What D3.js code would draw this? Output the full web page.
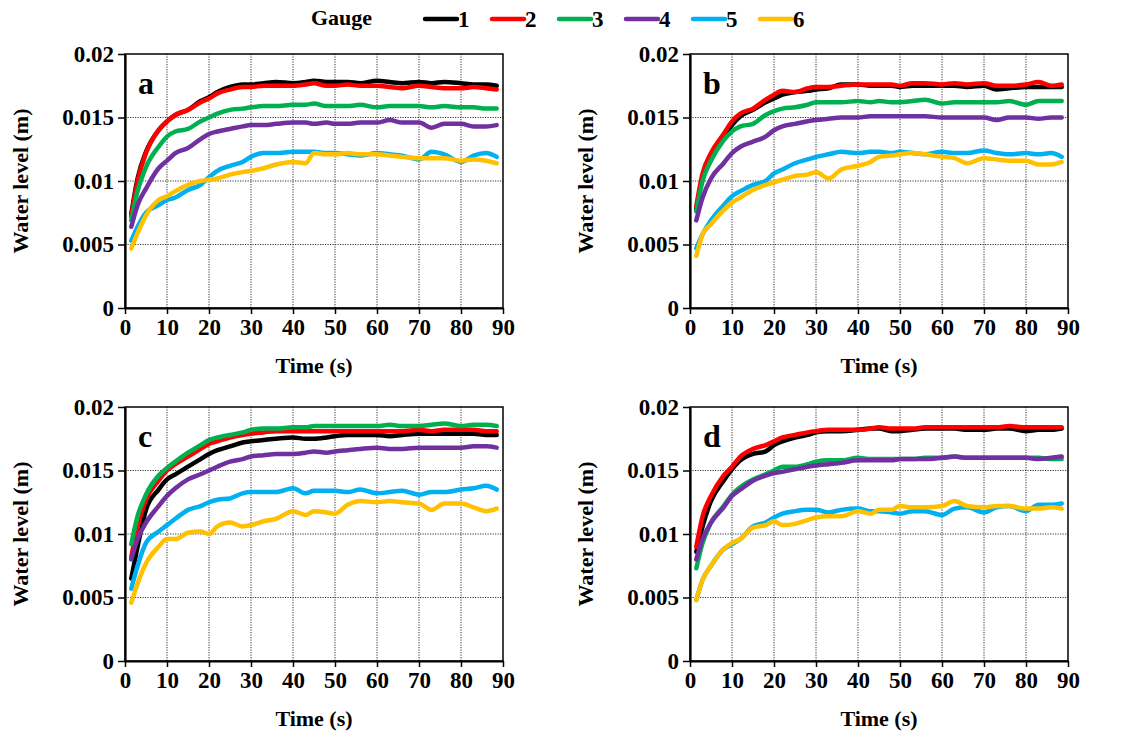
<!DOCTYPE html>
<html>
<head>
<meta charset="utf-8">
<script src="https://cdn.jsdelivr.net/npm/d3@7/dist/d3.min.js"></script>
<style>
  body { margin: 0; background: #fff; }
</style>
</head>
<body>
<div class="container"></div>
<script>
// sample times (s), shared by every series
var times = [1.5, 3, 5, 8, 10, 12, 15, 18, 20, 22, 25, 28, 30, 33, 36, 40, 43, 45, 48, 50, 53, 56, 60, 63, 66, 70, 73, 76, 80, 83, 86, 88.5];

var gauges = ['1', '2', '3', '4', '5', '6'];
var colors = ['#000000', '#ff0000', '#00b050', '#7030a0', '#00b0f0', '#ffc000'];
var panelNames = ['a', 'b', 'c', 'd'];
var xTicks = [0, 10, 20, 30, 40, 50, 60, 70, 80, 90];
var yTicks = [0, 0.005, 0.01, 0.015, 0.02];

// water level (m), panel a
var pa1 = [0.0074, 0.0102, 0.0123, 0.0140, 0.0147, 0.0152, 0.0156, 0.0163, 0.0166, 0.0170, 0.0174, 0.0176, 0.0176, 0.0177, 0.0178, 0.0177, 0.0178, 0.0179, 0.0178, 0.0178, 0.0178, 0.0177, 0.0179, 0.0178, 0.0177, 0.0178, 0.0177, 0.0178, 0.0177, 0.0176, 0.0176, 0.0175];
var pa2 = [0.0072, 0.0100, 0.0122, 0.0140, 0.0147, 0.0152, 0.0156, 0.0162, 0.0165, 0.0169, 0.0172, 0.0174, 0.0174, 0.0175, 0.0175, 0.0175, 0.0176, 0.0177, 0.0175, 0.0175, 0.0176, 0.0175, 0.0175, 0.0174, 0.0173, 0.0175, 0.0174, 0.0173, 0.0173, 0.0174, 0.0173, 0.0172];
var pa3 = [0.0069, 0.0092, 0.0111, 0.0127, 0.0135, 0.0139, 0.0141, 0.0147, 0.0150, 0.0153, 0.0156, 0.0157, 0.0158, 0.0159, 0.0159, 0.0160, 0.0160, 0.0161, 0.0159, 0.0159, 0.0159, 0.0160, 0.0158, 0.0159, 0.0159, 0.0159, 0.0158, 0.0159, 0.0158, 0.0158, 0.0157, 0.0157];
var pa4 = [0.0064, 0.0081, 0.0094, 0.0110, 0.0116, 0.0122, 0.0126, 0.0133, 0.0137, 0.0139, 0.0141, 0.0143, 0.0144, 0.0144, 0.0145, 0.0146, 0.0146, 0.0145, 0.0146, 0.0145, 0.0145, 0.0146, 0.0146, 0.0148, 0.0146, 0.0146, 0.0142, 0.0145, 0.0145, 0.0143, 0.0143, 0.0144];
var pa5 = [0.0053, 0.0064, 0.0075, 0.0081, 0.0085, 0.0087, 0.0093, 0.0097, 0.0103, 0.0108, 0.0112, 0.0115, 0.0119, 0.0122, 0.0122, 0.0123, 0.0123, 0.0123, 0.0122, 0.0122, 0.0121, 0.0120, 0.0122, 0.0121, 0.0120, 0.0117, 0.0123, 0.0121, 0.0115, 0.0120, 0.0122, 0.0119];
var pa6 = [0.0047, 0.0059, 0.0073, 0.0085, 0.0088, 0.0092, 0.0097, 0.0100, 0.0101, 0.0102, 0.0105, 0.0107, 0.0108, 0.0110, 0.0113, 0.0115, 0.0114, 0.0122, 0.0121, 0.0121, 0.0122, 0.0121, 0.0121, 0.0120, 0.0119, 0.0118, 0.0118, 0.0118, 0.0116, 0.0117, 0.0116, 0.0114];

// panel b
var pb1 = [0.0078, 0.0103, 0.0119, 0.0134, 0.0144, 0.0151, 0.0156, 0.0162, 0.0165, 0.0168, 0.0170, 0.0171, 0.0172, 0.0173, 0.0176, 0.0176, 0.0175, 0.0175, 0.0175, 0.0174, 0.0175, 0.0175, 0.0175, 0.0175, 0.0174, 0.0175, 0.0172, 0.0173, 0.0174, 0.0174, 0.0174, 0.0174];
var pb2 = [0.0080, 0.0106, 0.0122, 0.0137, 0.0147, 0.0153, 0.0157, 0.0164, 0.0168, 0.0171, 0.0170, 0.0173, 0.0174, 0.0174, 0.0175, 0.0176, 0.0176, 0.0176, 0.0176, 0.0175, 0.0177, 0.0177, 0.0176, 0.0177, 0.0176, 0.0177, 0.0175, 0.0175, 0.0176, 0.0178, 0.0175, 0.0176];
var pb3 = [0.0076, 0.0100, 0.0116, 0.0132, 0.0139, 0.0143, 0.0145, 0.0152, 0.0155, 0.0157, 0.0158, 0.0160, 0.0162, 0.0162, 0.0162, 0.0163, 0.0162, 0.0163, 0.0162, 0.0162, 0.0163, 0.0164, 0.0161, 0.0162, 0.0162, 0.0162, 0.0162, 0.0163, 0.0160, 0.0163, 0.0163, 0.0163];
var pb4 = [0.0069, 0.0087, 0.0102, 0.0114, 0.0122, 0.0127, 0.0131, 0.0135, 0.0140, 0.0143, 0.0145, 0.0147, 0.0148, 0.0149, 0.0150, 0.0150, 0.0151, 0.0151, 0.0151, 0.0151, 0.0151, 0.0151, 0.0150, 0.0150, 0.0150, 0.0150, 0.0148, 0.0150, 0.0150, 0.0149, 0.0150, 0.0150];
var pb5 = [0.0047, 0.0058, 0.0069, 0.0081, 0.0088, 0.0092, 0.0097, 0.0100, 0.0106, 0.0109, 0.0114, 0.0117, 0.0119, 0.0121, 0.0123, 0.0122, 0.0123, 0.0123, 0.0122, 0.0123, 0.0122, 0.0121, 0.0123, 0.0122, 0.0122, 0.0124, 0.0122, 0.0121, 0.0122, 0.0121, 0.0122, 0.0119];
var pb6 = [0.0041, 0.0058, 0.0066, 0.0077, 0.0083, 0.0087, 0.0093, 0.0097, 0.0099, 0.0101, 0.0104, 0.0105, 0.0107, 0.0102, 0.0109, 0.0112, 0.0115, 0.0119, 0.0120, 0.0121, 0.0122, 0.0121, 0.0119, 0.0118, 0.0114, 0.0118, 0.0117, 0.0116, 0.0116, 0.0113, 0.0113, 0.0115];

// panel c
var pc1 = [0.0065, 0.0090, 0.0119, 0.0135, 0.0143, 0.0147, 0.0153, 0.0159, 0.0163, 0.0166, 0.0169, 0.0172, 0.0173, 0.0174, 0.0175, 0.0176, 0.0175, 0.0175, 0.0176, 0.0177, 0.0178, 0.0178, 0.0178, 0.0177, 0.0178, 0.0179, 0.0179, 0.0179, 0.0179, 0.0179, 0.0178, 0.0178];
var pc2 = [0.0082, 0.0106, 0.0127, 0.0142, 0.0150, 0.0155, 0.0161, 0.0167, 0.0171, 0.0173, 0.0176, 0.0178, 0.0179, 0.0180, 0.0181, 0.0181, 0.0181, 0.0181, 0.0181, 0.0181, 0.0181, 0.0181, 0.0181, 0.0181, 0.0181, 0.0182, 0.0181, 0.0182, 0.0182, 0.0182, 0.0181, 0.0181];
var pc3 = [0.0092, 0.0114, 0.0131, 0.0146, 0.0152, 0.0157, 0.0164, 0.0170, 0.0174, 0.0176, 0.0178, 0.0180, 0.0182, 0.0183, 0.0183, 0.0184, 0.0184, 0.0185, 0.0185, 0.0185, 0.0185, 0.0185, 0.0185, 0.0186, 0.0185, 0.0185, 0.0186, 0.0187, 0.0185, 0.0186, 0.0186, 0.0185];
var pc4 = [0.0080, 0.0096, 0.0109, 0.0122, 0.0130, 0.0136, 0.0143, 0.0147, 0.0150, 0.0153, 0.0157, 0.0159, 0.0161, 0.0162, 0.0163, 0.0163, 0.0164, 0.0165, 0.0164, 0.0165, 0.0166, 0.0167, 0.0168, 0.0167, 0.0167, 0.0168, 0.0168, 0.0168, 0.0168, 0.0169, 0.0169, 0.0168];
var pc5 = [0.0057, 0.0075, 0.0093, 0.0102, 0.0107, 0.0112, 0.0119, 0.0122, 0.0125, 0.0127, 0.0128, 0.0132, 0.0133, 0.0133, 0.0133, 0.0136, 0.0132, 0.0134, 0.0134, 0.0134, 0.0133, 0.0135, 0.0132, 0.0133, 0.0134, 0.0131, 0.0133, 0.0133, 0.0135, 0.0136, 0.0138, 0.0135];
var pc6 = [0.0046, 0.0061, 0.0077, 0.0090, 0.0096, 0.0096, 0.0101, 0.0102, 0.0100, 0.0106, 0.0109, 0.0106, 0.0107, 0.0110, 0.0112, 0.0118, 0.0115, 0.0118, 0.0117, 0.0116, 0.0123, 0.0126, 0.0125, 0.0126, 0.0125, 0.0124, 0.0119, 0.0124, 0.0124, 0.0121, 0.0118, 0.0120];

// panel d
var pd1 = [0.0086, 0.0106, 0.0126, 0.0142, 0.0151, 0.0158, 0.0163, 0.0165, 0.0170, 0.0173, 0.0176, 0.0178, 0.0180, 0.0181, 0.0181, 0.0182, 0.0183, 0.0183, 0.0181, 0.0181, 0.0182, 0.0183, 0.0183, 0.0183, 0.0182, 0.0182, 0.0183, 0.0183, 0.0181, 0.0182, 0.0182, 0.0183];
var pd2 = [0.0090, 0.0114, 0.0130, 0.0146, 0.0153, 0.0161, 0.0167, 0.0170, 0.0173, 0.0176, 0.0178, 0.0180, 0.0181, 0.0182, 0.0182, 0.0182, 0.0183, 0.0184, 0.0183, 0.0183, 0.0183, 0.0184, 0.0184, 0.0184, 0.0184, 0.0184, 0.0184, 0.0185, 0.0184, 0.0184, 0.0184, 0.0184];
var pd3 = [0.0073, 0.0093, 0.0109, 0.0122, 0.0131, 0.0137, 0.0143, 0.0147, 0.0150, 0.0153, 0.0153, 0.0155, 0.0157, 0.0158, 0.0158, 0.0160, 0.0159, 0.0159, 0.0159, 0.0159, 0.0159, 0.0160, 0.0160, 0.0161, 0.0160, 0.0160, 0.0160, 0.0160, 0.0160, 0.0160, 0.0159, 0.0159];
var pd4 = [0.0080, 0.0096, 0.0109, 0.0121, 0.0130, 0.0135, 0.0142, 0.0146, 0.0148, 0.0149, 0.0151, 0.0153, 0.0154, 0.0155, 0.0156, 0.0158, 0.0158, 0.0158, 0.0158, 0.0159, 0.0159, 0.0159, 0.0160, 0.0161, 0.0160, 0.0160, 0.0160, 0.0160, 0.0160, 0.0159, 0.0160, 0.0161];
var pd5 = [0.0048, 0.0064, 0.0075, 0.0088, 0.0092, 0.0096, 0.0106, 0.0109, 0.0113, 0.0116, 0.0118, 0.0119, 0.0119, 0.0117, 0.0119, 0.0120, 0.0118, 0.0118, 0.0117, 0.0116, 0.0118, 0.0118, 0.0115, 0.0120, 0.0121, 0.0117, 0.0121, 0.0122, 0.0118, 0.0123, 0.0123, 0.0124];
var pd6 = [0.0048, 0.0064, 0.0075, 0.0088, 0.0093, 0.0096, 0.0105, 0.0107, 0.0110, 0.0107, 0.0108, 0.0111, 0.0113, 0.0114, 0.0114, 0.0118, 0.0116, 0.0119, 0.0119, 0.0122, 0.0121, 0.0121, 0.0122, 0.0126, 0.0122, 0.0121, 0.0122, 0.0122, 0.0120, 0.0120, 0.0121, 0.0120];

var panelSeries = [[pa1, pa2, pa3, pa4, pa5, pa6], [pb1, pb2, pb3, pb4, pb5, pb6], [pc1, pc2, pc3, pc4, pc5, pc6], [pd1, pd2, pd3, pd4, pd5, pd6]];

const WIDTH = 1141;
const HEIGHT = 733;
const PW = 378;
const PH = 254;
const FONT = '"Liberation Serif", Tinos, "Times New Roman", Times, "Nimbus Roman", "Nimbus Roman No9 L", FreeSerif, "Noto Serif", "DejaVu Serif", serif';
var origins = [[125, 54], [690, 54], [125, 407], [690, 407]];

var svg = d3.select('.container').append('svg')
	.attr('width', WIDTH)
	.attr('height', HEIGHT)
	.style('font-family', FONT);

var xScale = d3.scaleLinear().domain([0, 90]).range([0, PW]);
var yScale = d3.scaleLinear().domain([0, 0.02]).range([PH, 0]);

var fmt = function(d){ return d === 0 ? '0' : String(+d.toFixed(3)); };

var line = d3.line()
	.x(function(d){ return xScale(d[0]); })
	.y(function(d){ return yScale(d[1]); })
	.curve(d3.curveMonotoneX);

// every label uses the same bold serif face
var label = function(sel, size){
	return sel.attr('font-family', FONT).attr('font-weight', 'bold')
		.attr('font-size', size).attr('fill', '#000');
};

panelNames.forEach(function(name, p){
	var g = svg.append('g')
		.attr('transform', 'translate(' + origins[p][0] + ',' + origins[p][1] + ')');

	// dotted grid
	g.append('g').selectAll('line').data(xTicks.slice(1, -1))
		.enter().append('line')
		.attr('x1', xScale).attr('x2', xScale)
		.attr('y1', 0).attr('y2', PH)
		.attr('stroke', '#333').attr('stroke-width', 1).attr('stroke-dasharray', '1.2,1.3');
	g.append('g').selectAll('line').data(yTicks.slice(1, -1))
		.enter().append('line')
		.attr('y1', yScale).attr('y2', yScale)
		.attr('x1', 0).attr('x2', PW)
		.attr('stroke', '#333').attr('stroke-width', 1).attr('stroke-dasharray', '1.2,1.3');

	g.append('rect')
		.attr('width', PW).attr('height', PH)
		.attr('fill', 'none').attr('stroke', '#000').attr('stroke-width', 1.5);

	panelSeries[p].forEach(function(vals, i){
		g.append('path')
			.datum(times.map(function(t, k){ return [t, vals[k]]; }))
			.attr('d', line)
			.attr('fill', 'none')
			.attr('stroke', colors[i])
			.attr('stroke-width', 4.5)
			.attr('stroke-linejoin', 'round')
			.attr('stroke-linecap', 'round');
	});

	var xAxis = g.append('g')
		.attr('transform', 'translate(0,' + PH + ')')
		.call(d3.axisBottom(xScale).tickValues(xTicks).tickSize(6).tickPadding(5).tickSizeOuter(0));
	var yAxis = g.append('g')
		.call(d3.axisLeft(yScale).tickValues(yTicks).tickFormat(fmt).tickSize(7).tickPadding(4).tickSizeOuter(0));
	[xAxis, yAxis].forEach(function(ax){
		ax.attr('font-family', FONT);
		ax.select('.domain').attr('stroke-width', 2.2);
		ax.selectAll('.tick line').attr('stroke-width', 1.5);
		label(ax.selectAll('text'), 23);
	});

	label(g.append('text'), 32)
		.attr('x', 13).attr('y', 40)
		.text(name);

	label(g.append('text'), 22)
		.attr('x', PW / 2).attr('y', PH + 65)
		.attr('text-anchor', 'middle')
		.text('Time (s)');

	label(g.append('text'), 22)
		.attr('transform', 'translate(-97,' + (PH / 2) + ') rotate(-90)')
		.attr('text-anchor', 'middle')
		.text('Water level (m)');
});

// legend
var legend = svg.append('g');
label(legend.append('text'), 22)
	.attr('x', 372).attr('y', 25)
	.attr('text-anchor', 'end')
	.text('Gauge');
gauges.forEach(function(gname, i){
	var lx = 425 + i * 67;
	legend.append('line')
		.attr('x1', lx).attr('x2', lx + 32)
		.attr('y1', 19).attr('y2', 19)
		.attr('stroke', colors[i]).attr('stroke-width', 4.5)
		.attr('stroke-linecap', 'round');
	label(legend.append('text'), 23)
		.attr('x', lx + 33).attr('y', 27)
		.text(gname);
});
</script>
</body>
</html>
